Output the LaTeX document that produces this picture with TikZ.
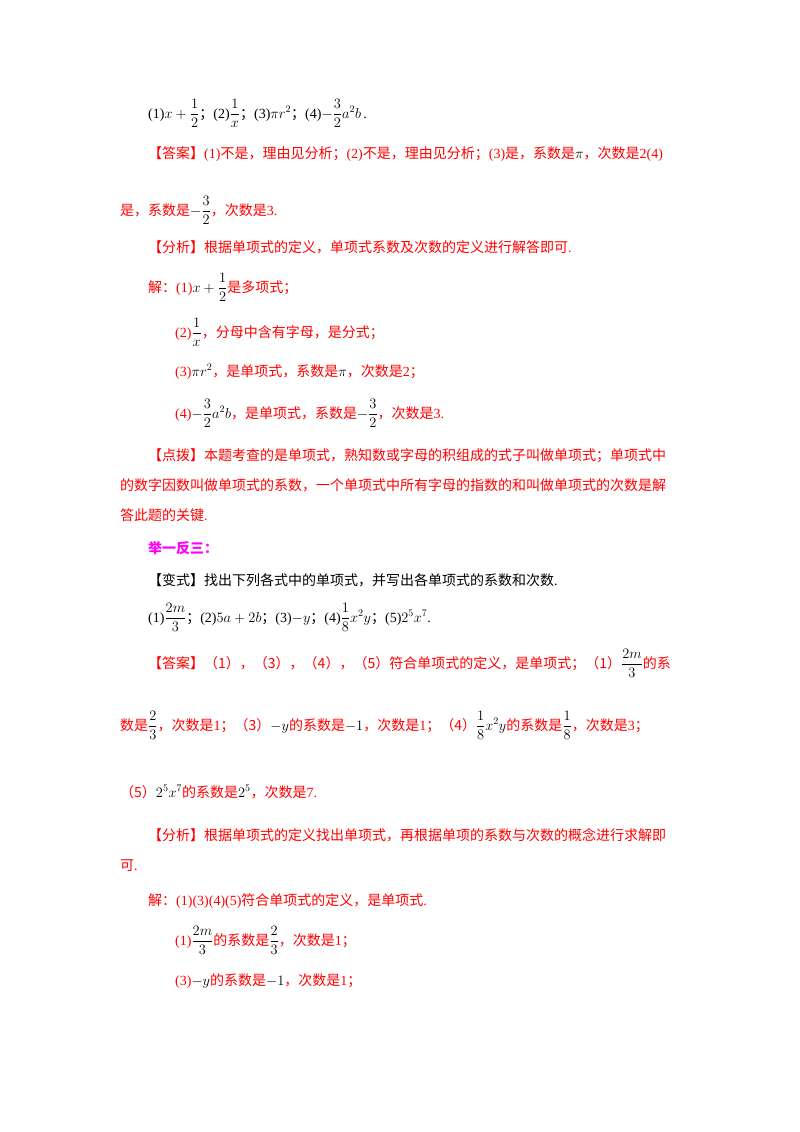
\documentclass[tikz,border=0pt]{standalone}
\usepackage{amsmath}
\usepackage{fontspec}
\setmainfont{Liberation Serif}
\newfontfamily\cjk{Noto Sans CJK SC}
\newcommand\C[1]{{\cjk #1}}
\newcommand\M[1]{{\color{black}$#1$}}
\definecolor{rd}{RGB}{255,0,0}
\definecolor{mg}{RGB}{255,0,255}
\begin{document}
\begin{tikzpicture}[x=1pt,y=-1pt,
  t/.style={anchor=base west,inner sep=0pt,font=\fontsize{14}{16}\selectfont},
  r/.style={t,text=rd}]
\useasboundingbox (0,0) rectangle (800,1132);
\node[t] (l1) at (148,118) {(1)$x+\dfrac12$\C{；}(2)$\dfrac1x$\C{；}(3)$\pi r^2$\C{；}(4)$-\dfrac32a^2b$\,.};
\node[r] (l2) at (148,158) {\C{【答案】}(1)\C{不是，理由见分析；}(2)\C{不是，理由见分析；}(3)\C{是，系数是}\M{\pi}\C{，次数是}2(4)};
\node[r] (l3) at (120,215) {\C{是，系数是}\M{-\dfrac32}\C{，次数是}3.};
\node[r] (l4) at (148,252) {\C{【分析】根据单项式的定义，单项式系数及次数的定义进行解答即可}.};
\node[r] (l5) at (148,292) {\C{解：}(1)\M{x+\dfrac12}\C{是多项式；}};
\node[r] (l6) at (175,337) {(2)\M{\dfrac1x}\C{，分母中含有字母，是分式；}};
\node[r] (l7) at (175,376) {(3)\M{\pi r^2}\C{，是单项式，系数是}\M{\pi}\C{，次数是}2\C{；}};
\node[r] (l8) at (175,418) {(4)\M{-\dfrac32a^2b}\C{，是单项式，系数是}\M{-\dfrac32}\C{，次数是}3.};
\node[r] (l9) at (148,460) {\C{【点拨】本题考查的是单项式，熟知数或字母的积组成的式子叫做单项式；单项式中}};
\node[r] (l10) at (120,490) {\C{的数字因数叫做单项式的系数，一个单项式中所有字母的指数的和叫做单项式的次数是解}};
\node[r] (l11) at (120,520) {\C{答此题的关键}.};
\node[t,text=mg] (l12) at (148,553) {{\cjk\bfseries 举一反三：}};
\node[t] (l13) at (148,585) {\C{【变式】找出下列各式中的单项式，并写出各单项式的系数和次数}.};
\node[t] (l14) at (148,622) {(1)$\dfrac{2m}3$\C{；}(2)$5a+2b$\C{；}(3)$-y$\C{；}(4)$\dfrac18x^2y$\C{；}(5)$2^5x^7$.};
\node[r] (l15) at (148,668) {\C{【答案】（1），（3），（4），（5）符合单项式的定义，是单项式；（1）}\M{\dfrac{2m}3}\C{的系}};
\node[r] (l16) at (120,730) {\C{数是}\M{\dfrac23}\C{，次数是}1\C{；（3）}\M{-y}\C{的系数是}\M{-1}\C{，次数是}1\C{；（4）}\M{\dfrac18x^2y}\C{的系数是}\M{\dfrac18}\C{，次数是}3\C{；}};
\node[r] (l17) at (120,797) {\C{（5）}\M{2^5x^7}\C{的系数是}\M{2^5}\C{，次数是}7.};
\node[r] (l18) at (148,840) {\C{【分析】根据单项式的定义找出单项式，再根据单项的系数与次数的概念进行求解即}};
\node[r] (l19) at (120,870) {\C{可}.};
\node[r] (l20) at (148,905) {\C{解：}(1)(3)(4)(5)\C{符合单项式的定义，是单项式}.};
\node[r] (l21) at (175,945) {(1)\M{\dfrac{2m}3}\C{的系数是}\M{\dfrac23}\C{，次数是}1\C{；}};
\node[r] (l22) at (175,985) {(3)\M{-y}\C{的系数是}\M{-1}\C{，次数是}1\C{；}};
\end{tikzpicture}
\end{document}
